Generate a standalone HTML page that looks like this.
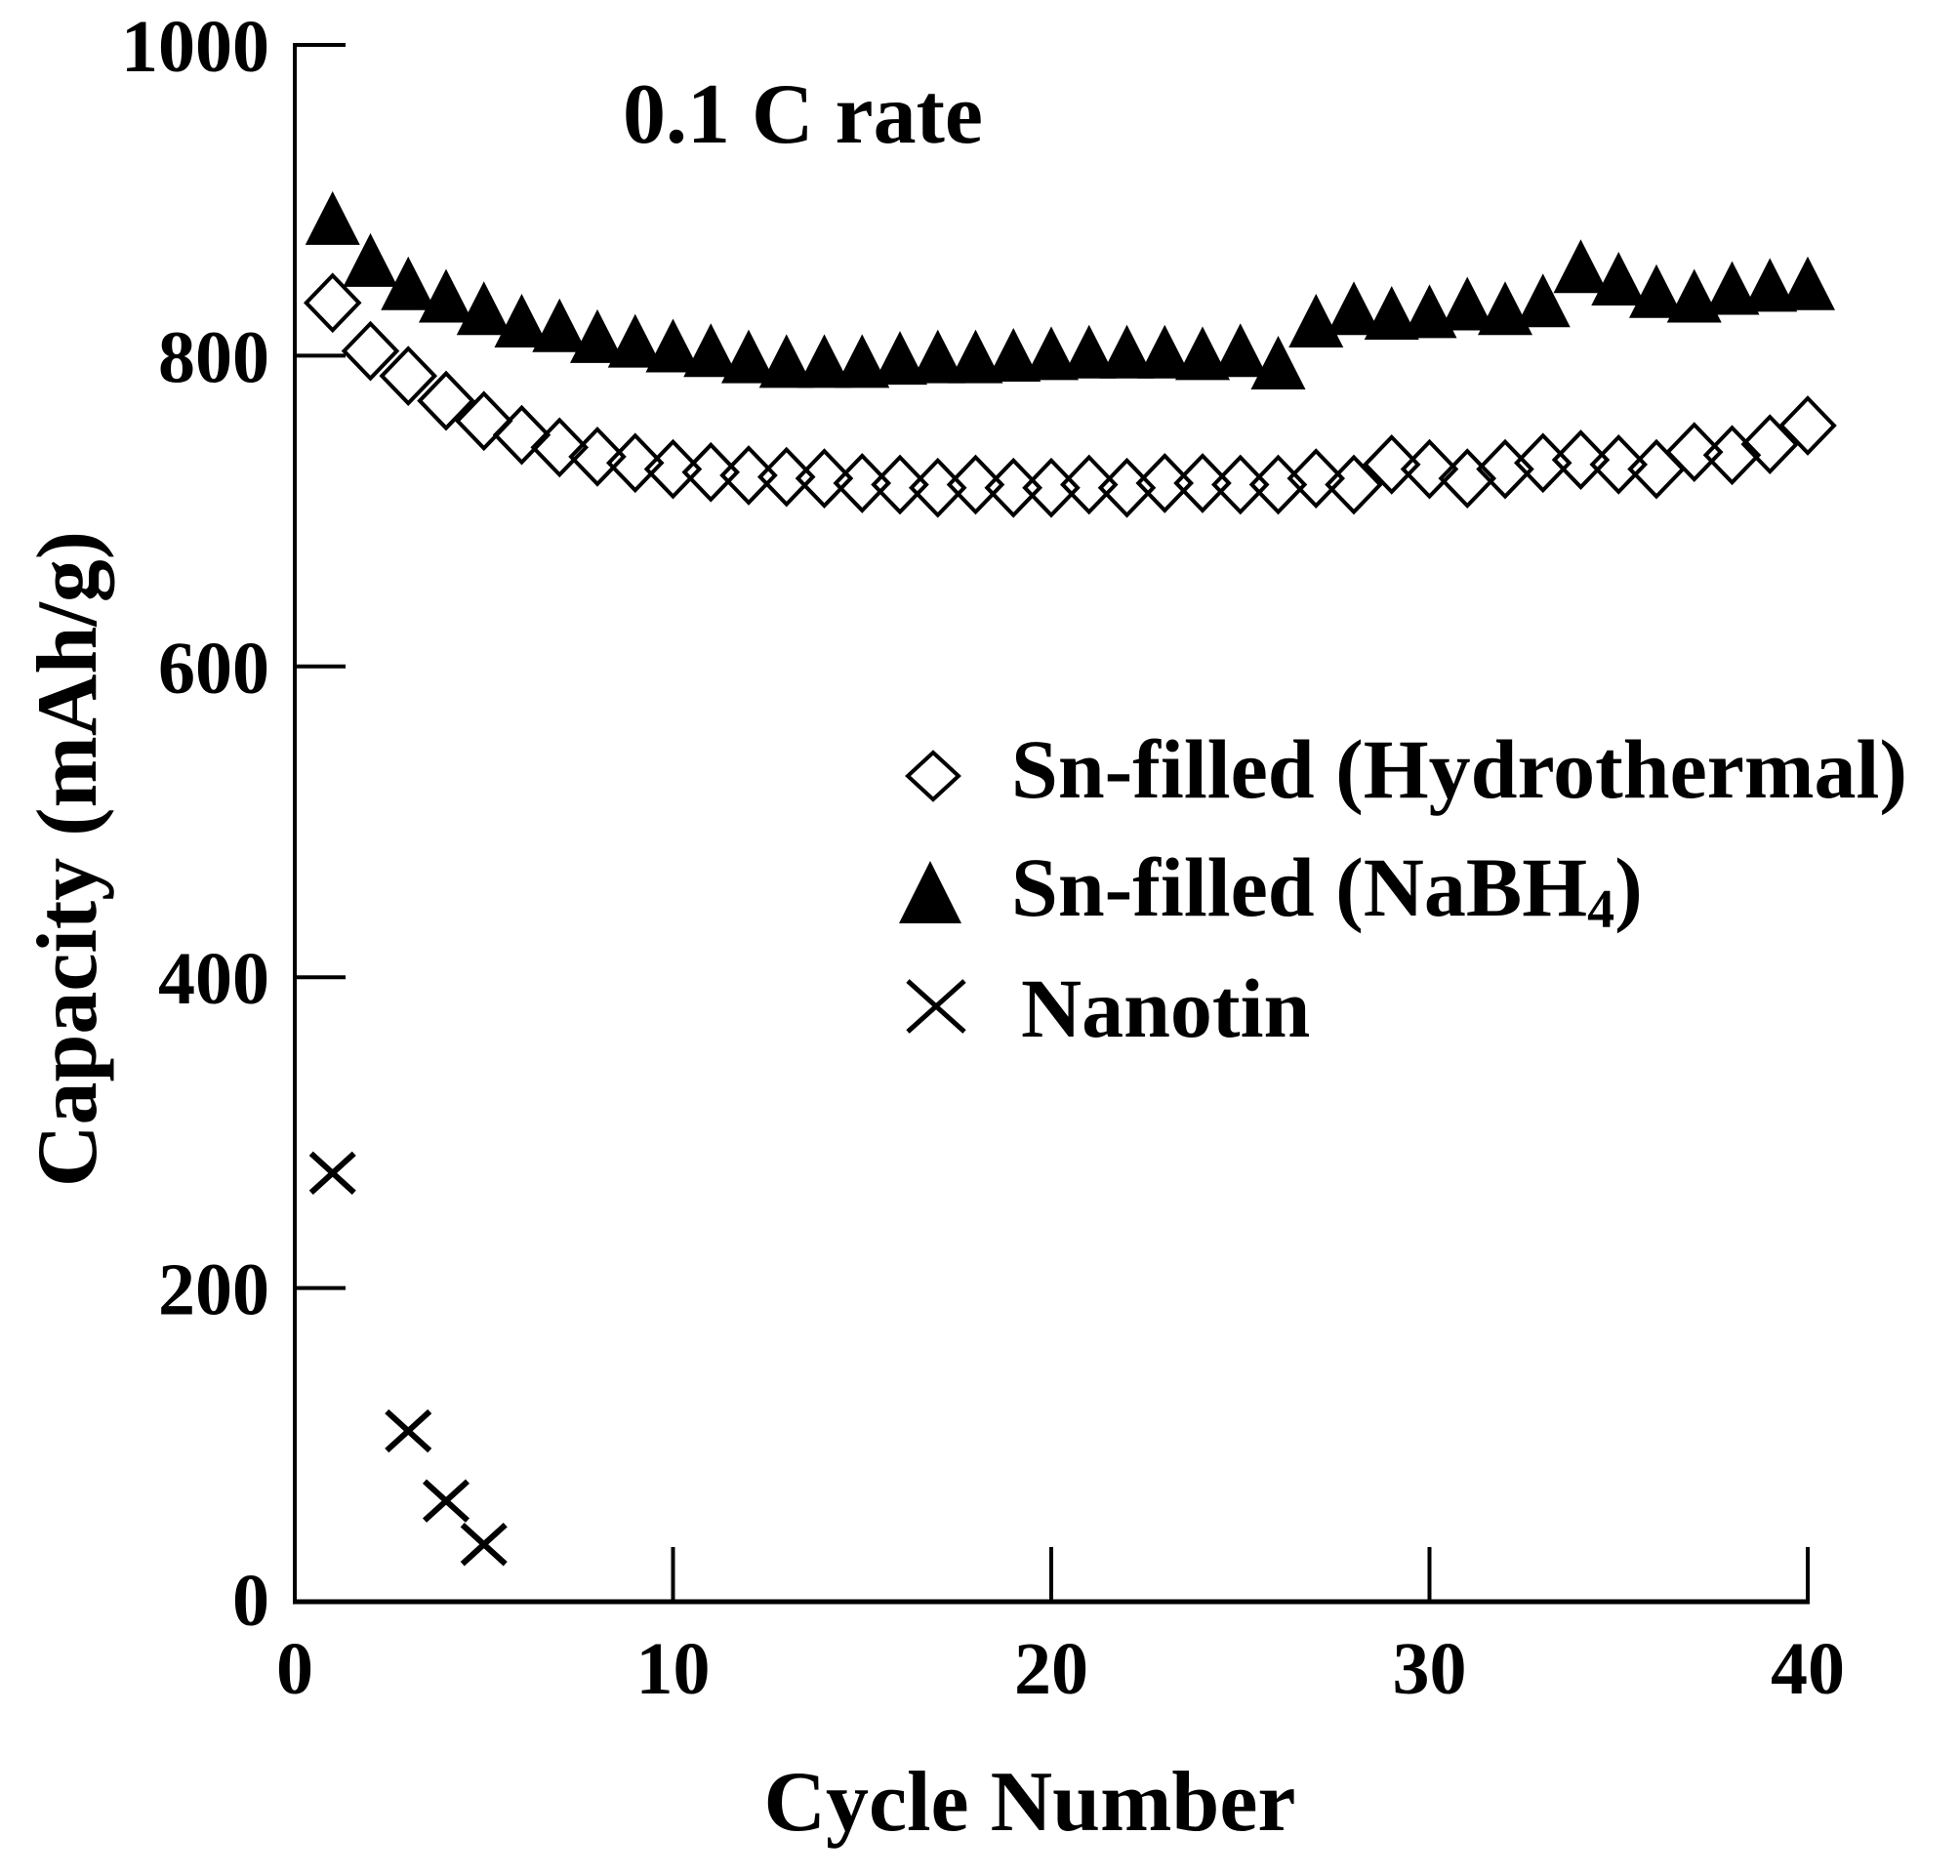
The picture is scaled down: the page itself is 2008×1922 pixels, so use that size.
<!DOCTYPE html>
<html><head><meta charset="utf-8"><style>
html,body{margin:0;padding:0;background:#fff;}
svg{display:block;}
text{font-family:"Liberation Serif",serif;font-weight:bold;fill:#000;}
</style></head><body>
<svg id="chart" width="2008" height="1922" viewBox="0 0 2008 1922" xmlns="http://www.w3.org/2000/svg">
<g id="axes"></g>
<g id="marks"></g>
<text x="638" y="146" font-size="88">0.1 C rate</text>
<text x="1055" y="1875" font-size="88" text-anchor="middle">Cycle Number</text>
<text transform="translate(98,880) rotate(-90)" font-size="88" text-anchor="middle">Capacity (mAh/g)</text>
<g>
<polygon points="956,771 982,795 956,819 930,795" fill="#fff" stroke="#000" stroke-width="4"/>
<text x="1036" y="817" font-size="86">Sn-filled (Hydrothermal)</text>
<polygon points="953,882 985,946 921,946" fill="#000"/>
<text x="1036" y="938" font-size="86">Sn-filled (NaBH<tspan font-size="56" dy="12">4</tspan><tspan dy="-12">)</tspan></text>
<path d="M930,1005 L988,1057 M988,1005 L930,1057" stroke="#000" stroke-width="5"/>
<text x="1046" y="1062" font-size="86">Nanotin</text>
</g>
</svg>
<script>
const cycles = [1,2,3,4,5,6,7,8,9,10,11,12,13,14,15,16,17,18,19,20,21,22,23,24,25,26,27,28,29,30,31,32,33,34,35,36,37,38,39,40];
const nabh4Values = [887,860,845,837,829,821,818,811,808,805,802,798,795,795,795,797,798,798,799,800,801,801,801,800,802,794,821,829,826,827,832,829,834,856,848,840,837,842,844,845];
const hydroValues = [834,803,787,771,758,749,741,735,731,727,725,723,722,721,718,717,715,717,715,715,717,715,718,718,717,717,721,717,730,727,721,727,731,733,730,727,738,736,743,755];
const nanotinCycles = [1,3,4,5];
const nanotinValues = [274,108,63,35];
const yTicks = [0,200,400,600,800,1000];
const xTicks = [0,10,20,30,40];

const NS = "http://www.w3.org/2000/svg";
const X0 = 302, X1 = 1852, Y0 = 1638, Y1 = 46;
function xs(c){ return X0 + (c/40)*(X1-X0); }
function ys(v){ return Y0 - (v/1000)*(Y0-Y1); }
function mk(tag, attrs, parent){
  const e = document.createElementNS(NS, tag);
  for (const k in attrs) e.setAttribute(k, attrs[k]);
  parent.appendChild(e);
  return e;
}
const axes = document.getElementById('axes');
const marks = document.getElementById('marks');

let el = mk('line', {x1:X0, y1:Y1-2, x2:X0, y2:1643, stroke:'#000','stroke-width':4}, axes);


el = mk('line', {x1:X0-2, y1:1641, x2:X1+2, y2:1641, stroke:'#000','stroke-width':5}, axes);



yTicks.forEach(v => {
  const y = ys(v);
  if (v > 0) {
    const t = mk('line', {x1:X0, y1:y, x2:X0+52, y2:y, stroke:'#000','stroke-width':4}, axes);
    
    
  }
  const l = mk('text', {x:276, y:y+27, 'font-size':76, 'text-anchor':'end'}, axes);
  l.textContent = v;
  
  
});
xTicks.forEach(c => {
  const x = xs(c);
  if (c > 0) {
    const t = mk('line', {x1:x, y1:1641, x2:x, y2:1585, stroke:'#000','stroke-width':4}, axes);
    
    
  }
  const l = mk('text', {x:x, y:1735, 'font-size':76, 'text-anchor':'middle'}, axes);
  l.textContent = c;
  
  
});

cycles.forEach((c, i) => {
  const x = xs(c), y = ys(nabh4Values[i]);
  const p = mk('polygon', {points:`${x},${y-30} ${x+28},${y+25} ${x-28},${y+25}`, fill:'#000'}, marks);
  
  
});
cycles.forEach((c, i) => {
  const x = xs(c), y = ys(hydroValues[i]);
  const p = mk('polygon', {points:`${x},${y-28} ${x+27},${y} ${x},${y+28} ${x-27},${y}`, fill:'none', stroke:'#000','stroke-width':4}, marks);
  
  
});
nanotinCycles.forEach((c, i) => {
  const x = xs(c), y = ys(nanotinValues[i]);
  const p = mk('path', {d:`M${x-22},${y-20} L${x+22},${y+20} M${x+22},${y-20} L${x-22},${y+20}`, stroke:'#000','stroke-width':6}, marks);
  
  
});
</script>
</body></html>
